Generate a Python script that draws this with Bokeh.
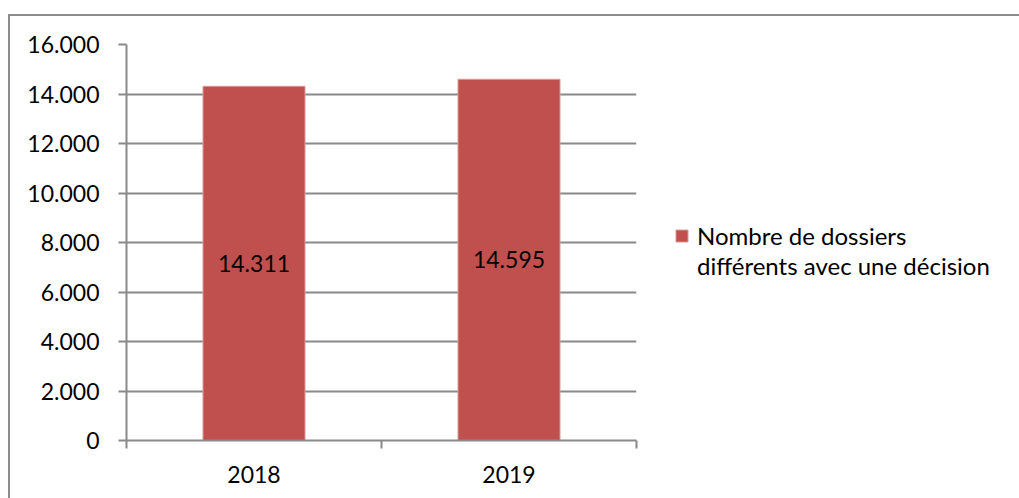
from bokeh.plotting import figure
from bokeh.models import FixedTicker, Legend, LegendItem, ColumnDataSource
from bokeh.core.properties import value
from bokeh.embed import file_html
from bokeh.resources import INLINE

categories = ["2018", "2019"]
values = [14311, 14595]
value_labels = ["14.311", "14.595"]
series_lines = ["Nombre de dossiers", "différents avec une décision"]
y_ticks = [0, 2000, 4000, 6000, 8000, 10000, 12000, 14000, 16000]
y_tick_labels = ["0", "2.000", "4.000", "6.000", "8.000", "10.000", "12.000", "14.000", "16.000"]

FONT = "Lato"
GRAY = "#898989"
BAR = "#C0504D"

xs = [i + 0.5 for i in range(len(categories))]
src = ColumnDataSource(dict(x=xs, top=values, mid=[v / 2 for v in values], lab=value_labels, cat=categories))

p = figure(x_range=(0, len(categories)), y_range=(0, 16000),
           frame_width=510, frame_height=396,
           min_border_left=116, min_border_top=28, min_border_right=383, min_border_bottom=58,
           output_backend="svg", toolbar_location=None)
p.styles = {"border-top": "2px solid #8c8c8c", "border-left": "2px solid #8c8c8c",
            "position": "relative", "top": "14px", "left": "8px"}
p.outline_line_color = None
p.background_fill_color = "white"
p.border_fill_color = "white"

bars = p.vbar(x="x", top="top", width=0.4, source=src, fill_color=BAR, line_color="#DC9896", line_width=1)
p.text(x="x", y="mid", text="lab", source=src, text_align="center", text_baseline="middle",
       text_font=value(FONT), text_font_size="23px", text_color="black")
# invisible renderer for the legend's second text line
blank = p.vbar(x=[], top=[], width=0.4, fill_alpha=0, line_alpha=0)

# y axis
p.yaxis.ticker = FixedTicker(ticks=y_ticks)
p.yaxis.major_label_overrides = {t: l for t, l in zip(y_ticks, y_tick_labels)}
p.yaxis.major_tick_out = 8
p.yaxis.major_tick_in = 0
p.yaxis.minor_tick_line_color = None
p.yaxis.axis_line_color = GRAY
p.yaxis.axis_line_width = 2
p.yaxis.major_tick_line_color = GRAY
p.yaxis.major_tick_line_width = 2
p.yaxis.major_label_text_font = FONT
p.yaxis.major_label_text_font_size = "23px"
p.yaxis.major_label_text_color = "black"
p.yaxis.major_label_standoff = 19

# x axis
p.xaxis.ticker = FixedTicker(ticks=xs, minor_ticks=list(range(len(categories) + 1)))
p.xaxis.major_label_overrides = {x: c for x, c in zip(xs, categories)}
p.xaxis.major_tick_out = 0
p.xaxis.major_tick_in = 0
p.xaxis.major_tick_line_color = None
p.xaxis.minor_tick_out = 8
p.xaxis.minor_tick_in = 0
p.xaxis.minor_tick_line_color = GRAY
p.xaxis.minor_tick_line_width = 2
p.xaxis.axis_line_color = GRAY
p.xaxis.axis_line_width = 2
p.xaxis.major_label_text_font = FONT
p.xaxis.major_label_text_font_size = "23px"
p.xaxis.major_label_text_color = "black"
p.xaxis.major_label_standoff = 17

p.xgrid.grid_line_color = None
p.ygrid.ticker = FixedTicker(ticks=y_ticks)
p.ygrid.grid_line_color = GRAY
p.ygrid.grid_line_width = 2

legend = Legend(items=[LegendItem(label=series_lines[0], renderers=[bars]),
                       LegendItem(label=series_lines[1], renderers=[blank])],
                location=(38, 160), orientation="vertical")
legend.border_line_color = None
legend.background_fill_alpha = 0
legend.margin = 0
legend.padding = 0
legend.spacing = 0
legend.label_height = 30
legend.glyph_width = 15
legend.glyph_height = 15
legend.label_standoff = 8
legend.label_text_font = FONT
legend.label_text_font_size = "24px"
legend.label_text_color = "black"
p.add_layout(legend, "right")

open("out.html", "w").write(file_html(p, INLINE))
